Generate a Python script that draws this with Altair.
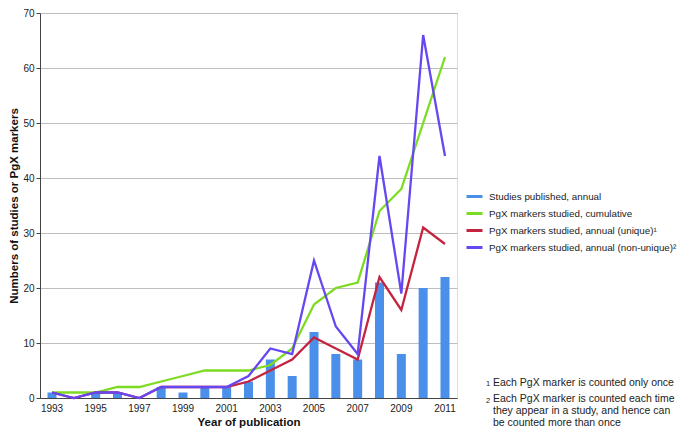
import altair as alt
import pandas as pd

years = list(range(1993, 2012))
studies = [1, 0, 1, 1, 0, 2, 1, 2, 2, 3, 7, 4, 12, 8, 7, 21, 8, 20, 22]
cumulative = [1, 1, 1, 2, 2, 3, 4, 5, 5, 5, 6, 9, 17, 20, 21, 34, 38, 50, 62]
unique = [1, 0, 1, 1, 0, 2, 2, 2, 2, 3, 5, 7, 11, 9, 7, 22, 16, 31, 28]
nonunique = [1, 0, 1, 1, 0, 2, 2, 2, 2, 4, 9, 8, 25, 13, 8, 44, 19, 66, 44]

series_names = [
    "Studies published, annual",
    "PgX markers studied, cumulative",
    "PgX markers studied, annual (unique)¹",
    "PgX markers studied, annual (non-unique)²",
]
series_colors = ["#4a8fe9", "#7ddb22", "#c4243f", "#6647f2"]
x_label_years = list(range(1993, 2012, 2))
y_ticks = list(range(0, 80, 10))

note1 = ["Each PgX marker is counted only once"]
note2 = ["Each PgX marker is counted each time\nthey appear in a study, and hence can\nbe counted more than once"]

FONT = "Liberation Sans"

bars_df = pd.DataFrame({"year": years, "value": studies})
line_frames = []
for i, (name, vals) in enumerate(zip(series_names[1:], [cumulative, unique, nonunique])):
    line_frames.append(pd.DataFrame({"year": years, "value": vals, "series": name, "order": i}))
lines_df = pd.concat(line_frames, ignore_index=True)

x_scale = alt.Scale(paddingInner=0, paddingOuter=0.05)
x_axis = alt.Axis(
    values=x_label_years, title="Year of publication", labelAngle=0,
    labelFontSize=10, labelColor="#222", titleFontSize=11.5, titleFontWeight="bold",
    titleColor="#111", domainColor="#444", ticks=False,
    labelPadding=5, titlePadding=3, grid=False,
)
y_scale = alt.Scale(domain=[0, 70], nice=False)
y_axis = alt.Axis(
    values=y_ticks, title="Numbers of studies or PgX markers",
    labelFontSize=10, labelColor="#222", titleFontSize=11.5, titleFontWeight="bold",
    titleColor="#111", domainColor="#444", tickColor="#444", tickSize=4,
    gridColor="#bdbdbd", gridWidth=1, labelPadding=2, titlePadding=3,
)

bars = alt.Chart(bars_df).mark_bar(size=9, color=series_colors[0]).encode(
    x=alt.X("year:O", scale=x_scale, axis=x_axis),
    y=alt.Y("value:Q", scale=y_scale, axis=y_axis),
)

lines = alt.Chart(lines_df).mark_line(strokeWidth=2.3).encode(
    x=alt.X("year:O", bandPosition=0.5),
    y=alt.Y("value:Q"),
    color=alt.Color(
        "series:N",
        scale=alt.Scale(domain=series_names, range=series_colors),
        legend=alt.Legend(
            title=None, orient="none", legendX=425, legendY=174,
            symbolType="stroke", symbolStrokeWidth=3, symbolSize=256,
            labelFontSize=9.8, labelFont=FONT, labelColor="#222",
            rowPadding=1, labelOffset=5, labelLimit=400, padding=0,
        ),
    ),
    order="order:Q",
    detail="series:N",
)

txt = dict(align="left", font=FONT, color="#222")
n1 = alt.Chart(pd.DataFrame({"t": note1})).mark_text(
    baseline="middle", fontSize=10.5, **txt
).encode(text="t:N", x=alt.value(453), y=alt.value(370))
n1num = alt.Chart(pd.DataFrame({"t": ["1"]})).mark_text(
    baseline="middle", fontSize=7.5, **txt
).encode(text="t:N", x=alt.value(446), y=alt.value(371))
n2 = alt.Chart(pd.DataFrame({"t": note2})).mark_text(
    baseline="top", fontSize=10.5, lineBreak="\n", lineHeight=12, **txt
).encode(text="t:N", x=alt.value(453), y=alt.value(381))
n2num = alt.Chart(pd.DataFrame({"t": ["2"]})).mark_text(
    baseline="middle", fontSize=7.5, **txt
).encode(text="t:N", x=alt.value(446), y=alt.value(388))

chart = alt.layer(bars, lines, n1, n1num, n2, n2num).properties(
    width=417, height=385,
    padding={"left": 0, "top": 0, "right": 0, "bottom": 0},
).configure_view(stroke=None).configure(
    font=FONT, background="white"
).configure_axis(labelFont=FONT, titleFont=FONT)

chart.save("out.html", embed_options={"renderer": "svg", "actions": False})
